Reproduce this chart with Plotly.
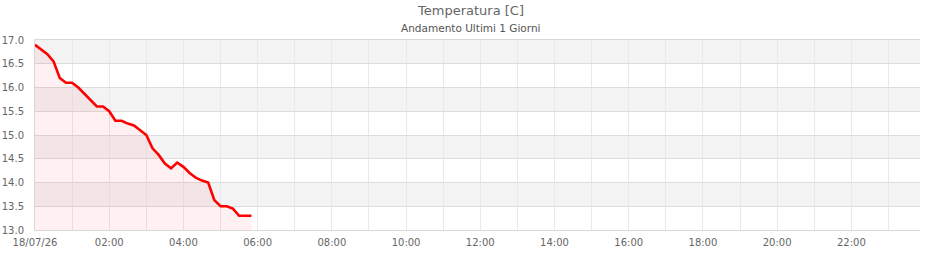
import plotly.graph_objects as go
import pandas as pd

times = pd.date_range("2026-07-18 00:00", periods=36, freq="10min")
temps = [16.9, 16.8, 16.7, 16.55, 16.2, 16.1, 16.1, 16.0, 15.87, 15.75,
         15.6, 15.6, 15.5, 15.3, 15.3, 15.24, 15.2, 15.1, 15.0, 14.72,
         14.58, 14.4, 14.3, 14.42, 14.33, 14.2, 14.1, 14.04, 14.0, 13.63,
         13.5, 13.5, 13.45, 13.3, 13.3, 13.3]

tick_vals = pd.date_range("2026-07-18 00:00", periods=12, freq="2h")
tick_text = ["18/07/26", "02:00", "04:00", "06:00", "08:00", "10:00",
             "12:00", "14:00", "16:00", "18:00", "20:00", "22:00"]
band_ranges = [(16.5, 17.0), (15.5, 16.0), (14.5, 15.0), (13.5, 14.0)]

title_text = "Temperatura [C]"
subtitle_text = "Andamento Ultimi 1 Giorni"

fig = go.Figure()
fig.add_trace(go.Scatter(
    x=times, y=temps, mode="lines",
    line=dict(color="#ff0000", width=2.6),
    fill="tozeroy", fillcolor="rgba(255,0,0,0.055)",
    hoverinfo="x+y",
))

for lo, hi in band_ranges:
    fig.add_shape(type="rect", xref="paper", yref="y", x0=0, x1=1, y0=lo, y1=hi,
                  fillcolor="#f3f3f3", line_width=0, layer="below")

fig.update_layout(
    width=940, height=260,
    margin=dict(l=35, r=20, t=40, b=30),
    paper_bgcolor="white", plot_bgcolor="white",
    showlegend=False,
    font=dict(family="DejaVu Sans", size=10, color="#666666"),
    annotations=[
        dict(text=title_text, xref="paper", yref="paper", x=(470 - 35) / 885, y=(230 - 11) / 190,
             showarrow=False, xanchor="center", yanchor="middle",
             font=dict(size=13, color="#666666")),
        dict(text=subtitle_text, xref="paper", yref="paper", x=(470 - 35) / 885, y=(230 - 28) / 190,
             showarrow=False, xanchor="center", yanchor="middle",
             font=dict(size=10.5, color="#555555")),
    ],
    xaxis=dict(
        range=["2026-07-18 00:00", "2026-07-18 23:51"],
        tickvals=tick_vals, ticktext=tick_text,
        showgrid=True, gridcolor="#e8e6f7", gridwidth=1,
        minor=dict(dtick=3600000, tick0="2026-07-18 00:00", showgrid=True, gridcolor="#e8e6f7"),
        showline=True, linecolor="#d8d8d8", mirror=True,
        ticks="", ticklabelstandoff=3, zeroline=False, automargin=False,
    ),
    yaxis=dict(
        range=[13, 17], dtick=0.5, tickformat=".1f",
        showgrid=True, gridcolor="#dddddd", gridwidth=1,
        showline=True, linecolor="#d8d8d8",
        ticks="", ticklabelstandoff=8, zeroline=False, automargin=False,
    ),
)

fig.write_html("out.html")
